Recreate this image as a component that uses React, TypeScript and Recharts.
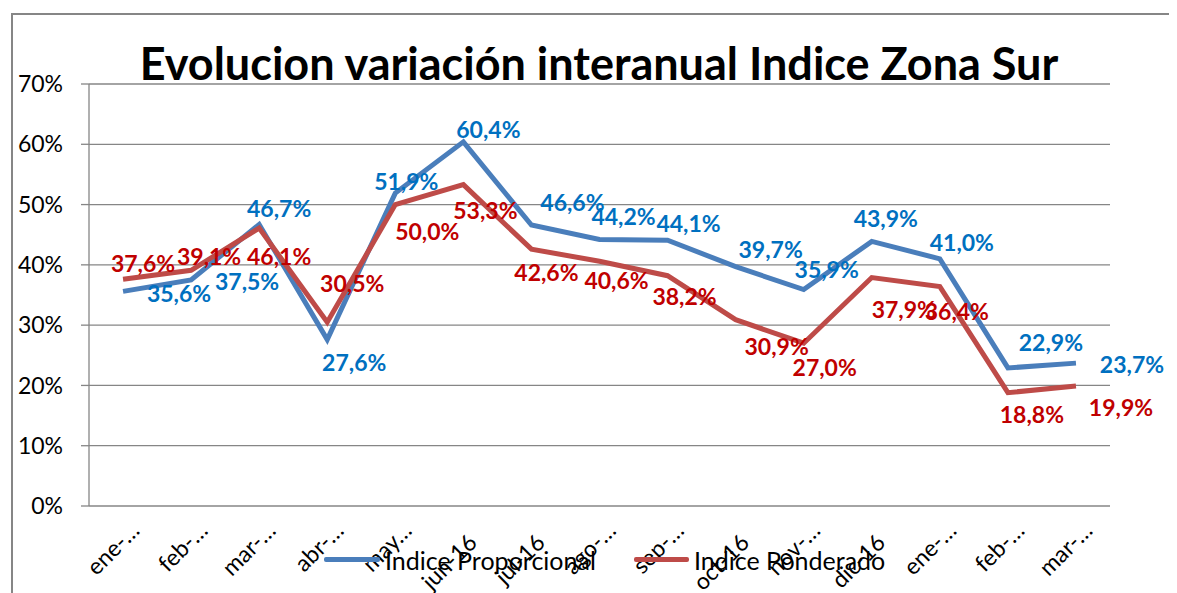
import { LineChart, Line, XAxis, YAxis, CartesianGrid, LabelList, Legend } from "recharts";

const meses = ["ene-…", "feb-…", "mar-…", "abr-…", "may…", "jun-16", "jul-16", "ago-…", "sep-…", "oct-16", "nov-…", "dic-16", "ene-…", "feb-…", "mar-…"];
const proporcional = [35.6, 37.5, 46.7, 27.6, 51.9, 60.4, 46.6, 44.2, 44.1, 39.7, 35.9, 43.9, 41.0, 22.9, 23.7];
const ponderado = [37.6, 39.1, 46.1, 30.5, 50.0, 53.3, 42.6, 40.6, 38.2, 30.9, 27.0, 37.9, 36.4, 18.8, 19.9];
const yTicks = [0, 10, 20, 30, 40, 50, 60, 70];
const limites = [0, 1, 2, 3, 4, 5, 6, 7, 8, 9, 10, 11, 12, 13, 14, 15];

const data = meses.map((mes, i) => ({
  n: i,
  mes,
  proporcional: proporcional[i],
  ponderado: ponderado[i],
}));

// label placement, like Excel put them (dx, dy from the point)
const offProp = [[56, 2], [56, 2], [20, -16], [27, 23], [11, -11], [25, -12], [41, -22], [24, -23], [21, -16], [35, -17], [23, -20], [14, -23], [22, -16], [43, -25], [56, 2]];
const offPond = [[20, -16], [18, -14], [20, 29], [25, -38], [32, 27], [22, 26], [15, 24], [17, 19], [17, 21], [41, 27], [21, 24], [32, 32], [17, 25], [24, 22], [45, 22]];

const AZUL = "#4a7ebb";
const ROJO = "#be4b48";
const GRIS = "#868686";
const FONT = "Lato, 'Open Sans', sans-serif";

const fmt = (v: number) => v.toFixed(1).replace(".", ",") + "%";

const makeLabel = (color: string, off: number[][]) => (props: any) => {
  const { x, y, value, index } = props;
  const [dx, dy] = off[index] || [0, -15];
  return (
    <text
      x={x + dx}
      y={y + dy}
      dy="0.36em"
      textAnchor="middle"
      fill={color}
      fontSize={23}
      fontWeight={700}
      fontFamily={FONT}
    >
      {fmt(value)}
    </text>
  );
};

const XTick = (props: any) => {
  const { x, y, payload } = props;
  const txt = meses[payload.value];
  // the untruncated labels sit a bit lower in the original
  const corto = txt.endsWith("…");
  const tx = x + (corto ? 18 : 15);
  const ty = y + (corto ? 26 : 38);
  return (
    <text
      x={tx}
      y={ty}
      transform={`rotate(-45 ${tx} ${ty})`}
      textAnchor="end"
      fontSize={23}
      fontFamily={FONT}
      fill="#000"
    >
      {txt}
    </text>
  );
};

const renderLegend = () => (
  <div style={{ position: "relative", height: 30, fontFamily: FONT, fontSize: 25, color: "#000" }}>
    <div style={{ position: "absolute", left: 316, top: 12, width: 56, height: 5, background: AZUL, borderRadius: 2 }} />
    <div style={{ position: "absolute", left: 377, top: 0, lineHeight: "30px" }}>Indice Proporcional</div>
    <div style={{ position: "absolute", left: 626, top: 12, width: 55, height: 5, background: ROJO, borderRadius: 2 }} />
    <div style={{ position: "absolute", left: 686, top: 0, lineHeight: "30px" }}>Indice Ponderado</div>
  </div>
);

export default function App() {
  return (
    <div style={{ position: "relative", width: 1169, height: 585, fontFamily: FONT, background: "#fff" }}>
      <style>{"html, body { overflow: hidden; }"}</style>
      {/* chart frame: only the top and left edges are inside the picture */}
      <div style={{ position: "absolute", left: 3, top: 5, width: 1166, height: 2, background: GRIS }} />
      <div style={{ position: "absolute", left: 3, top: 5, width: 2, height: 580, background: GRIS }} />
      <div
        style={{
          position: "absolute",
          top: 28,
          left: 0,
          width: 1182,
          textAlign: "center",
          fontSize: 45,
          fontWeight: 700,
          lineHeight: "54px",
          color: "#000",
          whiteSpace: "nowrap",
        }}
      >
        Evolucion variación interanual Indice Zona Sur
      </div>
      <LineChart
        width={1169}
        height={585}
        data={data}
        margin={{ top: 76, right: 67, bottom: 0, left: 0 }}
        style={{ position: "absolute", left: 0, top: 0 }}
      >
        <CartesianGrid xAxisId="cats" vertical={false} stroke={GRIS} strokeWidth={1.3} />
        <XAxis
          xAxisId="marks"
          type="number"
          domain={[0, 15]}
          ticks={limites}
          allowDataOverflow
          height={0}
          tickSize={7}
          tickFormatter={() => ""}
          axisLine={{ stroke: GRIS, strokeWidth: 1.3 }}
          tickLine={{ stroke: GRIS, strokeWidth: 1.3 }}
        />
        <XAxis
          xAxisId="cats"
          dataKey="n"
          type="category"
          scale="band"
          height={87}
          axisLine={false}
          tickLine={false}
          tickSize={0}
          tickMargin={0}
          interval={0}
          tick={<XTick />}
        />
        <YAxis
          domain={[0, 70]}
          ticks={yTicks}
          width={81}
          tickSize={8}
          tickMargin={18}
          tickFormatter={(v) => `${v}%`}
          tick={{ fill: "#000", fontSize: 23, fontFamily: FONT }}
          axisLine={{ stroke: GRIS, strokeWidth: 1.3 }}
          tickLine={{ stroke: GRIS, strokeWidth: 1.3 }}
        />
        <Legend
          layout="horizontal"
          verticalAlign="middle"
          align="center"
          content={renderLegend}
          wrapperStyle={{ top: 537, left: 0, width: 1169, height: 30 }}
        />
        <Line
          xAxisId="cats"
          type="linear"
          dataKey="proporcional"
          name="Indice Proporcional"
          stroke={AZUL}
          strokeWidth={5}
          dot={false}
          isAnimationActive={false}
        >
          <LabelList dataKey="proporcional" content={makeLabel("#0070c0", offProp)} />
        </Line>
        <Line
          xAxisId="cats"
          type="linear"
          dataKey="ponderado"
          name="Indice Ponderado"
          stroke={ROJO}
          strokeWidth={5}
          dot={false}
          isAnimationActive={false}
        >
          <LabelList dataKey="ponderado" content={makeLabel("#c00000", offPond)} />
        </Line>
      </LineChart>
    </div>
  );
}
